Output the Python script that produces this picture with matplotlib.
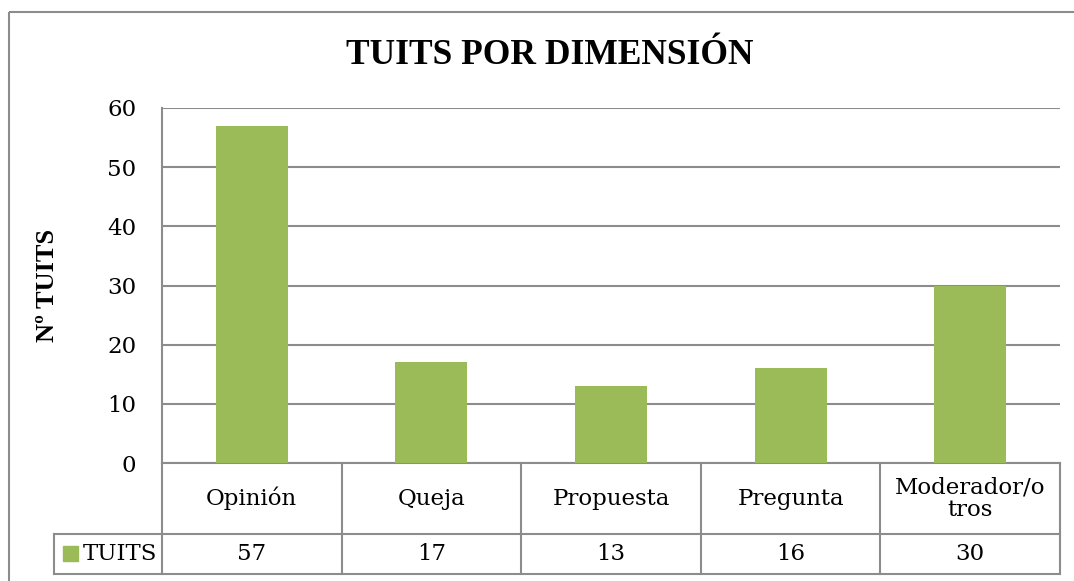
import matplotlib.pyplot as plt
from matplotlib.lines import Line2D
from matplotlib.patches import Rectangle
from matplotlib.transforms import blended_transform_factory

# data
categories = ["Opinión", "Queja", "Propuesta", "Pregunta", "Moderador/o\ntros"]
tuits = [57, 17, 13, 16, 30]
yticks = [0, 10, 20, 30, 40, 50, 60]
series_name = "TUITS"

green = "#9BBB59"
gray = "#8C8C8C"
W, H = 1074, 581
body_font = ["DejaVu Serif"]
bold_font = ["Liberation Serif", "DejaVu Serif"]

plt.rcParams["font.family"] = body_font

fig = plt.figure(figsize=(W / 100, H / 100), dpi=100)
ax = fig.add_axes([162 / W, 1 - 463 / H, (1060 - 162) / W, (463 - 108) / H])

x = list(range(len(categories)))
ax.bar(x, tuits, width=0.4, color=green, zorder=3)
ax.set_xlim(-0.5, len(categories) - 0.5)
ax.set_ylim(0, 60)
ax.set_yticks(yticks)
ax.set_yticklabels([str(v) for v in yticks], fontsize=16.5)
ax.tick_params(axis="y", length=0, pad=18.5)
ax.set_xticks([])
ax.yaxis.grid(True, color=gray, lw=1.5, zorder=0)
for s in ["top", "right", "bottom"]:
    ax.spines[s].set_visible(False)
ax.spines["left"].set_color(gray)
ax.spines["left"].set_linewidth(1.5)

ax.set_ylabel("Nº TUITS", fontsize=19, fontweight="bold", family=bold_font)
ax.yaxis.set_label_coords((59 - 162) / 898, 0.5)

# data table below the plot
px = lambda p: (p - 162) / 898
py = lambda p: (463 - p) / 355
tr = blended_transform_factory(ax.transData, ax.transAxes)
ta = ax.transAxes
y_top, y_mid, y_bot = py(463), py(534), py(574)
x_leg = px(54)
line_kw = dict(color=gray, lw=1.5, clip_on=False)
ax.add_line(Line2D([0, 1], [y_top, y_top], transform=ta, **line_kw))
ax.add_line(Line2D([x_leg, 1], [y_mid, y_mid], transform=ta, **line_kw))
ax.add_line(Line2D([x_leg, 1], [y_bot, y_bot], transform=ta, **line_kw))
ax.add_line(Line2D([x_leg, x_leg], [y_mid, y_bot], transform=ta, **line_kw))
for k in range(len(categories) + 1):
    ax.add_line(Line2D([k - 0.5, k - 0.5], [y_top, y_bot], transform=tr, **line_kw))

for i, (cat, v) in enumerate(zip(categories, tuits)):
    ax.text(i, (y_top + y_mid) / 2, cat, transform=tr, ha="center", va="center",
            fontsize=16.5, linespacing=1.05)
    ax.text(i, (y_mid + y_bot) / 2, str(v), transform=tr, ha="center", va="center",
            fontsize=16.5)

# legend key in table
ax.add_patch(Rectangle((px(63), py(561)), 15 / 898, 15 / 355,
                       transform=ta, color=green, clip_on=False))
ax.text(px(83), (y_mid + y_bot) / 2, series_name, transform=ta,
        ha="left", va="center", fontsize=16.5)

fig.text(550 / W, 1 - 55 / H, "TUITS POR DIMENSIÓN", ha="center", va="center",
         fontsize=25.5, fontweight="bold", family=bold_font)

# chart border (left and top only, right side is cut off)
fig.add_artist(Line2D([9 / W, 1.02], [1 - 12 / H, 1 - 12 / H], transform=fig.transFigure,
                      color=gray, lw=1.5, solid_capstyle="butt"))
fig.add_artist(Line2D([9 / W, 9 / W], [-0.02, 1 - 12 / H], transform=fig.transFigure,
                      color=gray, lw=1.5, solid_capstyle="butt"))

fig.savefig("out.png", dpi=100)
